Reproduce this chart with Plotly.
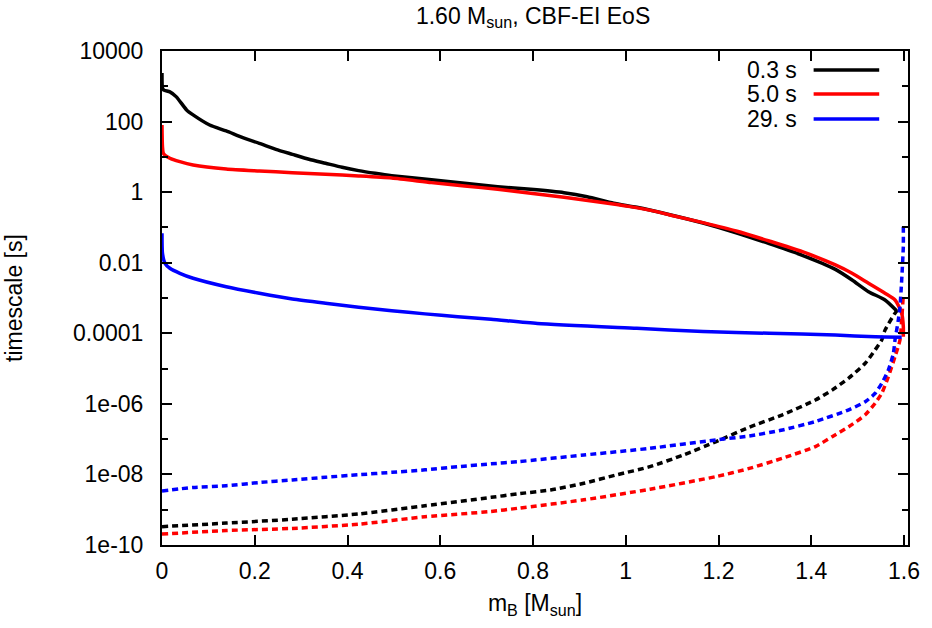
import plotly.graph_objects as go

# ---------------- data ----------------
# mass coordinate m_B [M_sun] and log10(timescale [s])
black_solid_m = [0.0, 0.001, 0.004, 0.017, 0.031, 0.053, 0.067, 0.1028, 0.1385, 0.1742, 0.2099,
                 0.2456, 0.2812, 0.317, 0.3527, 0.3884, 0.424, 0.4597, 0.4954, 0.581,
                 0.6525, 0.7238, 0.795, 0.8667, 0.9167, 0.9738, 1.0238, 1.095, 1.1666, 1.238,
                 1.3093, 1.3808, 1.452, 1.488, 1.5234, 1.559, 1.584]
black_solid_lg = [3.38, 2.95, 2.89, 2.84, 2.70, 2.33, 2.19, 1.903, 1.733, 1.543, 1.384,
                  1.214, 1.072, 0.931, 0.818, 0.704, 0.61, 0.534, 0.468, 0.35,
                  0.25, 0.155, 0.08, -0.015, -0.13, -0.316, -0.43, -0.64, -0.875, -1.15,
                  -1.46, -1.79, -2.19, -2.49, -2.82, -3.056, -3.36]

red_solid_m = [0.0, 0.001, 0.003, 0.017, 0.0385, 0.067, 0.1385, 0.21, 0.281, 0.3527, 0.424,
               0.4954, 0.581, 0.6525, 0.7238, 0.795, 0.8667, 0.9381, 1.0095, 1.0666,
               1.095, 1.1666, 1.238, 1.3093, 1.3808, 1.452, 1.488, 1.5234, 1.559, 1.5806,
               1.595, 1.5985, 1.5985]
red_solid_lg = [1.903, 1.29, 1.10, 0.96, 0.863, 0.77, 0.656, 0.60, 0.552, 0.506, 0.458,
                0.40, 0.27, 0.175, 0.08, -0.03, -0.146, -0.27, -0.41, -0.553,
                -0.647, -0.865, -1.10, -1.384, -1.687, -2.064, -2.30, -2.583, -2.866, -3.056,
                -3.43, -3.81, -4.10]

blue_solid_m = [0.0, 0.001, 0.0064, 0.017, 0.0385, 0.067, 0.1385, 0.21, 0.281, 0.3527, 0.424,
                0.4954, 0.567, 0.638, 0.7096, 0.8096, 1.0238, 1.1666, 1.3093, 1.452, 1.538, 1.595]
blue_solid_lg = [-1.165, -1.73, -2.016, -2.157, -2.30, -2.44, -2.68, -2.866, -3.03, -3.15, -3.26,
                 -3.36, -3.45, -3.53, -3.60, -3.72, -3.86, -3.95, -4.0, -4.05, -4.10, -4.11]

black_dot_m = [0.0, 0.1385, 0.281, 0.424, 0.567, 0.7096, 0.7668, 0.838, 0.9096, 0.981, 1.0523,
               1.1238, 1.195, 1.2665, 1.338, 1.409, 1.445, 1.4807, 1.5164, 1.5378, 1.552,
               1.559, 1.5806, 1.587]
black_dot_lg = [-9.48, -9.38, -9.27, -9.12, -8.89, -8.65, -8.55, -8.44, -8.25, -8.01, -7.78,
                -7.45, -7.07, -6.66, -6.31, -5.89, -5.61, -5.27, -4.85, -4.47, -4.19,
                -3.91, -3.43, -3.33]

red_dot_m = [0.0, 0.1385, 0.281, 0.424, 0.567, 0.7096, 0.7668, 0.9096, 1.0523, 1.195, 1.2665,
             1.338, 1.409, 1.445, 1.4807, 1.5164, 1.5378, 1.552, 1.5663, 1.5806, 1.5913,
             1.595, 1.5985]
red_dot_lg = [-9.69, -9.59, -9.53, -9.41, -9.20, -9.05, -8.96, -8.72, -8.42, -8.06, -7.83,
              -7.54, -7.21, -6.93, -6.65, -6.31, -5.98, -5.70, -5.23, -4.66, -4.19,
              -3.62, -2.91]

blue_dot_m = [0.0, 0.067, 0.1385, 0.21, 0.281, 0.3527, 0.424, 0.4954, 0.567, 0.638, 0.7096,
              0.7668, 0.9096, 1.0523, 1.195, 1.2665, 1.338, 1.409, 1.4807, 1.5164, 1.5378,
              1.552, 1.5663, 1.577, 1.5806, 1.5878, 1.5913, 1.595, 1.5985, 1.5985]
blue_dot_lg = [-8.468, -8.37, -8.32, -8.23, -8.156, -8.08, -8.01, -7.94, -7.87, -7.78, -7.70,
               -7.64, -7.45, -7.26, -7.02, -6.91, -6.74, -6.50, -6.17, -5.94, -5.70,
               -5.42, -5.04, -4.57, -4.19, -3.62, -3.25, -2.49, -1.545, -0.98]

series_labels = ["0.3 s", "5.0 s", "29. s"]
series_colors = ["#000000", "#ff0000", "#0000ff"]

x_ticks = [0, 0.2, 0.4, 0.6, 0.8, 1.0, 1.2, 1.4, 1.6]
x_ticktext = ["0", "0.2", "0.4", "0.6", "0.8", "1", "1.2", "1.4", "1.6"]
y_ticks = [1e4, 1e2, 1, 1e-2, 1e-4, 1e-6, 1e-8, 1e-10]
y_ticktext = ["10000", "100", "1", "0.01", "0.0001", "1e-06", "1e-08", "1e-10"]
y_minor = [1e3, 1e1, 1e-1, 1e-3, 1e-5, 1e-7, 1e-9]

# ---------------- figure ----------------
FONT = "Liberation Sans, Arial, sans-serif"
FS = 23
LW = 3.5

def tolin(lg):
    return [10 ** v for v in lg]

fig = go.Figure()
pairs = [
    (black_solid_m, black_solid_lg, black_dot_m, black_dot_lg),
    (red_solid_m, red_solid_lg, red_dot_m, red_dot_lg),
    (blue_solid_m, blue_solid_lg, blue_dot_m, blue_dot_lg),
]
for (sm, sl, dm, dl), name, col in zip(pairs, series_labels, series_colors):
    fig.add_trace(go.Scatter(x=sm, y=tolin(sl), mode="lines", name=name,
                             line=dict(color=col, width=LW, shape="spline", smoothing=0.6),
                             showlegend=False))
    fig.add_trace(go.Scatter(x=dm, y=tolin(dl), mode="lines", name=name + " (dotted)",
                             line=dict(color=col, width=LW, dash="6px,4px",
                                       shape="spline", smoothing=0.6),
                             showlegend=False))

# gnuplot-style legend: text right-aligned, sample line to the right
leg_y = [0.9615, 0.913, 0.8623]
for lab, col, yy in zip(series_labels, series_colors, leg_y):
    fig.add_annotation(x=0.8535, y=yy, xref="paper", yref="paper", text=lab,
                       showarrow=False, xanchor="right", yanchor="middle",
                       font=dict(family=FONT, size=FS, color="black"))
    fig.add_shape(type="line", xref="paper", yref="paper", x0=0.8735, x1=0.9614,
                  y0=yy, y1=yy, line=dict(color=col, width=LW))

fig.update_layout(
    width=932, height=628,
    margin=dict(l=162, r=19, t=51, b=83),
    paper_bgcolor="white", plot_bgcolor="white",
    font=dict(family=FONT, size=FS, color="black"),
    title=dict(text="1.60 M<sub>sun</sub>, CBF-EI EoS", x=0.572, xanchor="center",
               y=0.988, yanchor="top", yref="container",
               font=dict(family=FONT, size=FS, color="black")),
    showlegend=False,
)
fig.update_xaxes(
    range=[0, 1.6086], tickmode="array", tickvals=x_ticks, ticktext=x_ticktext,
    ticks="inside", ticklen=10, tickwidth=1.5, tickcolor="black",
    showline=True, linecolor="black", linewidth=2, mirror="allticks",
    showgrid=False, zeroline=False,
    title=dict(text="m<sub>B</sub> [M<sub>sun</sub>]", standoff=12,
               font=dict(family=FONT, size=FS)),
    ticklabelstandoff=4,
)
fig.update_yaxes(
    type="log", range=[-10, 4], tickmode="array", tickvals=y_ticks, ticktext=y_ticktext,
    ticks="inside", ticklen=10, tickwidth=1.5, tickcolor="black",
    minor=dict(tickmode="array", tickvals=y_minor, ticks="inside", ticklen=6,
               tickwidth=1.5, tickcolor="black", showgrid=False),
    showline=True, linecolor="black", linewidth=2, mirror="allticks",
    showgrid=False, zeroline=False,
    title=dict(text="timescale [s]", standoff=44, font=dict(family=FONT, size=FS)),
    ticklabelstandoff=12,
)

fig.write_html("out.html")
